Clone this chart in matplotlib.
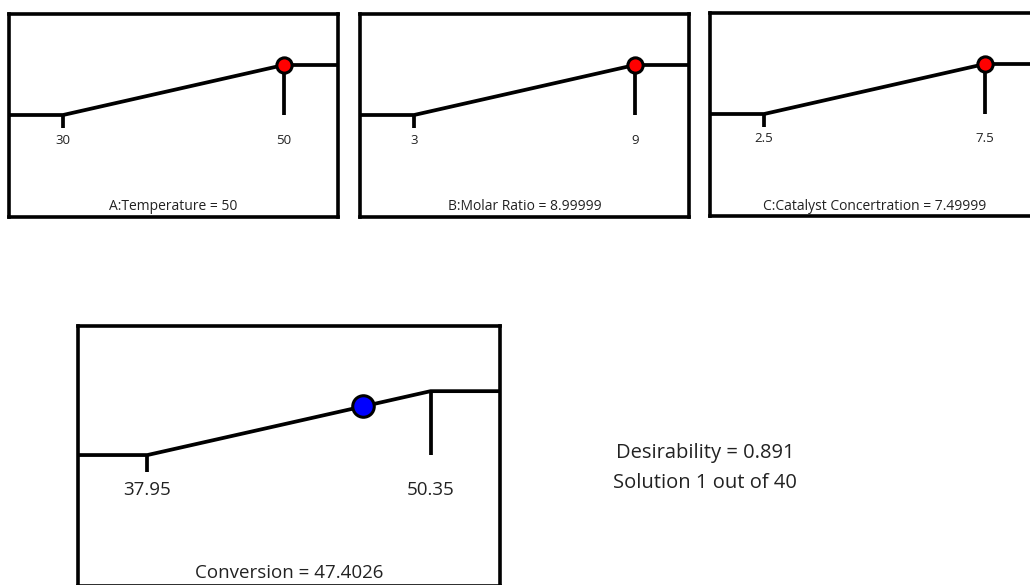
import matplotlib
matplotlib.use("Agg")
import matplotlib.pyplot as plt

plt.rcParams['font.family'] = ['Open Sans', 'DejaVu Sans']

# factor ramps
factor_names = ["A:Temperature", "B:Molar Ratio", "C:Catalyst Concertration"]
factor_low = [30, 3, 2.5]
factor_high = [50, 9, 7.5]
factor_value = [50, 8.99999, 7.49999]
factor_low_text = ["30", "3", "2.5"]
factor_high_text = ["50", "9", "7.5"]
factor_value_text = ["50", "8.99999", "7.49999"]

# response ramp
response_name = "Conversion"
response_low = 37.95
response_high = 50.35
response_value = 47.4026
response_low_text = "37.95"
response_high_text = "50.35"
response_value_text = "47.4026"

desirability = 0.891
solution_no = 1
solution_total = 40

W, H = 1030, 585
fig = plt.figure(figsize=(W / 100, H / 100), dpi=100)


def add_box(x0, y0, x1, y1):
    # pixel box -> figure axes
    ax = fig.add_axes([x0 / W, 1 - y1 / H, (x1 - x0) / W, (y1 - y0) / H])
    ax.set_xticks([])
    ax.set_yticks([])
    for s in ax.spines.values():
        s.set_linewidth(2.6)
        s.set_color('black')
    return ax


def ramp(ax, low, high, value, low_text, high_text, label, dot_color,
         ylim, dot_size, fs_tick, fs_label, tick_y, label_y):
    span = high - low
    m = 0.245 * span
    ax.set_xlim(low - m, high + m)
    ax.set_ylim(*ylim)
    lw = 2.7
    ax.plot([low - m, low, high, high + m], [0, 0, 1, 1], color='black',
            lw=lw, solid_capstyle='butt', solid_joinstyle='round', clip_on=True)
    ax.plot([low, low], [0, -0.26], color='black', lw=lw, solid_capstyle='butt')
    ax.plot([high, high], [1, 0], color='black', lw=lw, solid_capstyle='butt')
    d = (value - low) / span
    ax.plot([value], [d], 'o', color=dot_color, markeredgecolor='black',
            markeredgewidth=2.2, markersize=dot_size, zorder=5, clip_on=False)
    ax.text(low, tick_y, low_text, ha='center', va='center', fontsize=fs_tick, color='#222222')
    ax.text(high, tick_y, high_text, ha='center', va='center', fontsize=fs_tick, color='#222222')
    ax.text((low + high) / 2, label_y, label, ha='center', va='center',
            fontsize=fs_label, color='#222222')


boxes = [(9, 14, 338, 217), (360, 14, 689, 217), (710, 13, 1039, 216)]
for i in range(3):
    ax = add_box(*boxes[i])
    ramp(ax, factor_low[i], factor_high[i], factor_value[i],
         factor_low_text[i], factor_high_text[i],
         f"{factor_names[i]} = {factor_value_text[i]}", 'red',
         (-2.04, 2.02), 11, 9.5, 10, -0.5, -1.84)

ax = add_box(78, 326, 500, 586)
ramp(ax, response_low, response_high, response_value,
     response_low_text, response_high_text,
     f"{response_name} = {response_value_text}", 'blue',
     (-2.05, 2.02), 15.5, 13.5, 13.5, -0.55, -1.84)

fig.text(705 / W, 1 - 453 / H, f"Desirability = {desirability:.3f}",
         ha='center', va='center', fontsize=14.5, color='#222222')
fig.text(705 / W, 1 - 483 / H, f"Solution {solution_no} out of {solution_total}",
         ha='center', va='center', fontsize=14.5, color='#222222')

fig.savefig("out.png", dpi=100)
